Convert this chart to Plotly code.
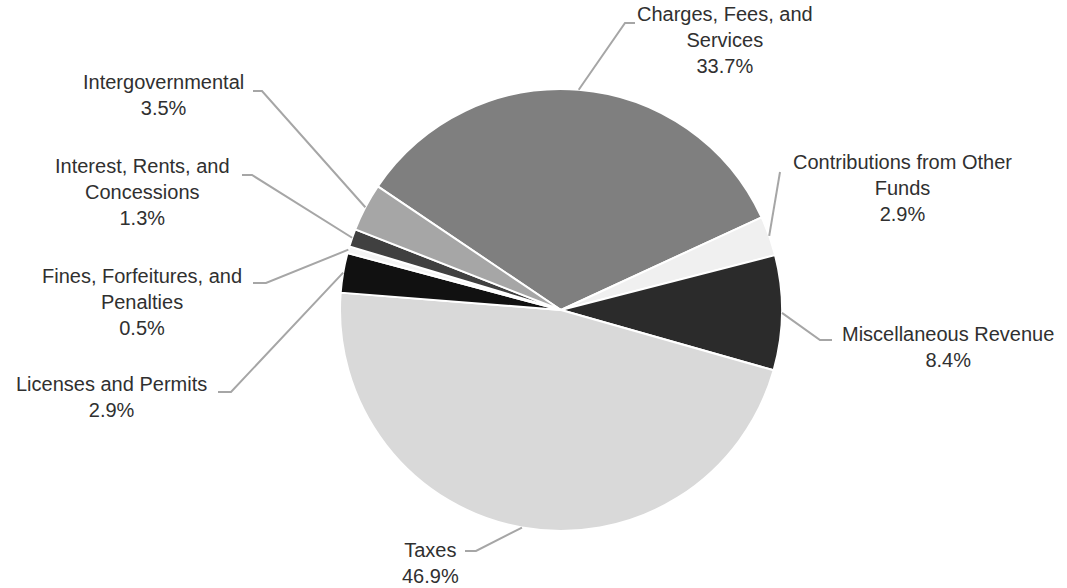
import math
import plotly.graph_objects as go

# ---- data ----
categories = [
    "Charges, Fees, and Services",
    "Contributions from Other Funds",
    "Miscellaneous Revenue",
    "Taxes",
    "Licenses and Permits",
    "Fines, Forfeitures, and Penalties",
    "Interest, Rents, and Concessions",
    "Intergovernmental",
]
values = [33.7, 2.9, 8.4, 46.9, 2.9, 0.5, 1.3, 3.5]
label_lines = [
    "Charges, Fees, and<br>Services",
    "Contributions from Other<br>Funds",
    "Miscellaneous Revenue",
    "Taxes",
    "Licenses and Permits",
    "Fines, Forfeitures, and<br>Penalties",
    "Interest, Rents, and<br>Concessions",
    "Intergovernmental",
]
colors = ["#7f7f7f", "#f0f0f0", "#2b2b2b", "#d9d9d9", "#111111", "#f4f4f4", "#404040", "#a6a6a6"]

# ---- layout (pixels) ----
W, H = 1067, 588
CX, CY, R = 561, 310, 221
ROTATION = -56
# label block centres and leader-line waypoints (elbow, end)
label_pos = [(725, 40), (902, 188), (948, 347), (430, 563), (111, 397), (142, 302), (142, 192), (163, 95)]
elbows = [
    [(625, 23), (635, 23)],
    [(780, 172)],
    [(820, 340), (832, 340)],
    [(476, 551), (465, 551)],
    [(231, 392), (218, 392)],
    [(266, 283), (253, 283)],
    [(252, 175), (242, 175)],
    [(262, 91), (253, 91)],
]

def px(x):
    return x / W

def py(y):
    return 1 - y / H

fig = go.Figure(go.Pie(
    labels=categories,
    values=values,
    sort=False,
    direction="clockwise",
    rotation=ROTATION,
    marker=dict(colors=colors, line=dict(color="white", width=2)),
    textinfo="none",
    hoverinfo="label+percent",
    showlegend=False,
    domain=dict(x=[px(CX - R), px(CX + R)], y=[py(CY + R), py(CY - R)]),
))

total = sum(values)
cum = 0.0
shapes = []
annotations = []
for i, v in enumerate(values):
    mid = ROTATION + (cum + v / 2) / total * 360
    cum += v
    a = math.radians(mid)
    sx = CX + R * math.sin(a)
    sy = CY - R * math.cos(a)
    pts = [(sx, sy)] + elbows[i]
    path = "M " + " L ".join(f"{px(x):.5f},{py(y):.5f}" for x, y in pts)
    shapes.append(dict(type="path", path=path, xref="paper", yref="paper",
                       line=dict(color="#a6a6a6", width=2)))
    pct = f"{v:.1f}%"
    lx, ly = label_pos[i]
    annotations.append(dict(
        text=f"{label_lines[i]}<br>{pct}", x=px(lx), y=py(ly),
        xref="paper", yref="paper", xanchor="center", yanchor="middle",
        showarrow=False, align="center",
        font=dict(family="Liberation Sans, Arial, sans-serif", size=20, color="#303030"),
    ))

fig.update_layout(
    width=W, height=H,
    margin=dict(l=0, r=0, t=0, b=0),
    paper_bgcolor="white", plot_bgcolor="white",
    shapes=shapes, annotations=annotations,
)

fig.write_html(
    "out.html",
    config={"displayModeBar": False},
    post_script="document.body.style.margin='0px';document.body.style.overflow='hidden';",
)
